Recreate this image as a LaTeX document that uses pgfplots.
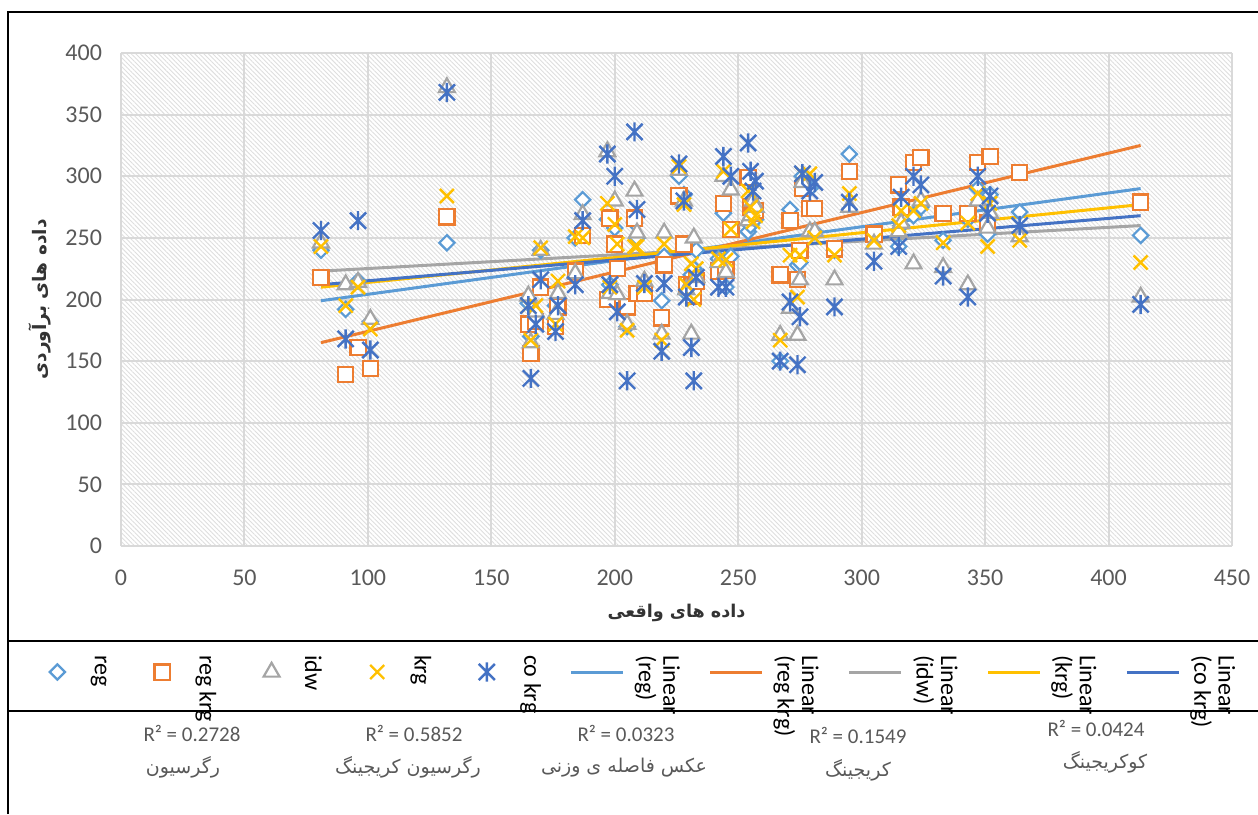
\documentclass[border=0pt]{standalone}
\usepackage{fontspec}
\setmainfont{Carlito}
\newfontfamily\fa[Script=Arabic]{DejaVu Sans}
\TeXXeTstate=1
\usepackage{graphicx}
\usepackage{pgfplots}
\pgfplotsset{compat=1.18}
\usepackage{pgfplotstable}
\usetikzlibrary{patterns.meta}
\definecolor{cReg}{HTML}{5B9BD5}
\definecolor{cRegKrg}{HTML}{ED7D31}
\definecolor{cIdw}{HTML}{A5A5A5}
\definecolor{cKrg}{HTML}{FFC000}
\definecolor{cCo}{HTML}{4472C4}
\definecolor{tickgray}{HTML}{595959}
\definecolor{gridgray}{HTML}{D9D9D9}

\pgfdeclareplotmark{xc}{%
  \pgfpathmoveto{\pgfqpoint{-\pgfplotmarksize}{-\pgfplotmarksize}}%
  \pgfpathlineto{\pgfqpoint{\pgfplotmarksize}{\pgfplotmarksize}}%
  \pgfpathmoveto{\pgfqpoint{-\pgfplotmarksize}{\pgfplotmarksize}}%
  \pgfpathlineto{\pgfqpoint{\pgfplotmarksize}{-\pgfplotmarksize}}%
  \pgfusepathqstroke}
\pgfdeclareplotmark{xstar}{%
  \pgfpathmoveto{\pgfqpoint{-0.84\pgfplotmarksize}{-0.84\pgfplotmarksize}}%
  \pgfpathlineto{\pgfqpoint{0.84\pgfplotmarksize}{0.84\pgfplotmarksize}}%
  \pgfpathmoveto{\pgfqpoint{-0.84\pgfplotmarksize}{0.84\pgfplotmarksize}}%
  \pgfpathlineto{\pgfqpoint{0.84\pgfplotmarksize}{-0.84\pgfplotmarksize}}%
  \pgfpathmoveto{\pgfqpoint{0pt}{-\pgfplotmarksize}}%
  \pgfpathlineto{\pgfqpoint{0pt}{\pgfplotmarksize}}%
  \pgfusepathqstroke}

\newcommand\leg[1]{\raisebox{8.5pt}{\rotatebox{-90}{#1}}}
\newcommand\legtwo[2]{\raisebox{8.5pt}{\rotatebox{-90}{\renewcommand\arraystretch{0.82}\begin{tabular}{@{}l@{}}#1\\#2\end{tabular}}}}

\pgfplotstableread{
x   reg regkrg idw krg cokrg
81  240 218 246 243 256
91  192 139 212 195 168
96  215 161 214 210 264
101 182 144 184 176 159
132 246 267 372 284 368
165 197 180 203 195 195
166 170 156 165 167 136
168 185 182 190 195 180
170 240 210 240 242 216
176 195 178 188 180 174
177 200 194 205 215 195
184 250 223 221 251 212
187 281 252 269 250 264
197 265 200 320 278 318
198 212 266 205 210 212
200 258 245 280 261 300
201 200 225 204 245 190
205 178 194 180 175 134
208 262 266 288 243 336
209 250 205 254 243 273
212 210 205 215 210 213
219 199 185 172 167 158
220 235 228 254 245 213
226 300 284 305 308 310
228 285 245 280 277 280
229 205 212 208 212 202
231 220 210 172 229 161
232 225 203 250 200 134
233 240 215 218 225 218
242 233 223 230 233 210
244 270 278 300 304 316
245 210 224 222 232 210
247 235 257 289 257 300
254 255 299 264 288 327
255 260 275 268 275 304
256 270 270 280 263 288
257 265 272 275 268 296
267 150 220 171 167 150
271 273 264 193 236 198
274 228 216 171 202 147
275 230 240 216 236 186
276 300 290 295 302 302
279 290 274 255 302 288
281 255 274 255 250 295
289 240 241 216 236 194
295 318 304 275 286 279
305 250 253 245 248 231
315 243 293 255 260 243
316 260 275 262 272 283
321 268 311 229 272 300
324 275 315 280 278 293
333 248 270 226 246 219
343 265 270 212 262 202
347 290 311 280 286 300
351 253 262 258 243 270
352 285 316 270 278 284
364 271 303 251 248 260
413 252 279 202 230 196
}\data

\begin{document}
\begin{tikzpicture}
\path[use as bounding box] (0,0) rectangle (629pt,407pt);
\begin{axis}[
  at={(60.5pt,134pt)}, anchor=south west,
  scale only axis, width=555.5pt, height=246.5pt,
  xmin=0, xmax=450, ymin=0, ymax=400,
  xtick={0,50,...,450}, ytick={0,50,...,400},
  grid=major, major grid style={draw=gridgray, line width=1pt},
  axis line style={draw=none},
  major tick length=0pt,
  tick label style={font=\fontsize{12}{14}\selectfont, text=tickgray},
  xticklabel shift=8.5pt, yticklabel shift=6pt,
  /pgf/number format/assume math mode=true,
  axis background/.style={pattern={Lines[angle=-45,distance=1.6pt,line width=0.45pt]}, pattern color=black!13},
  xlabel={\fa\bfseries\beginR داده های واقعی\endR},
  ylabel={\fa\bfseries\beginR داده های برآوردی\endR},
  xlabel style={at={(axis description cs:0.5,-0.1359)}, anchor=center, font=\fontsize{8.8}{11}\selectfont, text=black!80},
  ylabel style={at={(axis description cs:-0.0729,0.5)}, anchor=center, font=\fontsize{9.3}{11}\selectfont, text=black!80},
  legend columns=-1,
  legend style={at={(axis description cs:-0.081,-0.2211)}, anchor=north west,
    draw=none, fill=none, inner sep=0pt, outer sep=0pt,
    font=\fontsize{12}{14}\selectfont, text=black,
    nodes={inner sep=0pt},
    cells={anchor=base west},
    /tikz/every odd column/.append style={column sep=3.5pt},
    /tikz/every even column/.append style={column sep=14.5pt}},
  legend image code/.code={\path (0pt,0pt) (26pt,0pt);\draw[mark repeat=2,mark phase=2,#1] plot coordinates {(0pt,0pt) (13pt,0pt) (26pt,0pt)};},
]
\addplot[only marks, mark=square*, mark size=2.7pt, draw=cReg, mark options={rotate=45, fill=white, draw=cReg, line width=1.1pt}] table[x=x,y=reg] {\data};
\addlegendentry{\leg{reg}}
\addplot[only marks, mark=square*, mark size=3.8pt, draw=cRegKrg, mark options={fill=white, draw=cRegKrg, line width=1.1pt}] table[x=x,y=regkrg] {\data};
\addlegendentry{\leg{reg krg}}
\addplot[only marks, mark=triangle*, mark size=4.6pt, draw=cIdw, mark options={fill=white, draw=cIdw, line width=1.1pt}] table[x=x,y=idw] {\data};
\addlegendentry{\leg{idw}}
\addplot[only marks, mark=xc, mark size=3.5pt, draw=cKrg, mark options={draw=cKrg, line width=1.2pt}] table[x=x,y=krg] {\data};
\addlegendentry{\leg{krg}}
\addplot[only marks, mark=xstar, mark size=4.8pt, draw=cCo, mark options={draw=cCo, line width=1.2pt}] table[x=x,y=cokrg] {\data};
\addlegendentry{\leg{co krg}}
\addplot[cReg, line width=1.5pt, no marks] coordinates {(81,199) (413,290)};
\addlegendentry{\legtwo{Linear}{(reg)}}
\addplot[cRegKrg, line width=1.5pt, no marks] coordinates {(81,165) (413,325)};
\addlegendentry{\legtwo{Linear}{(reg krg)}}
\addplot[cIdw, line width=1.5pt, no marks] coordinates {(81,223) (413,260)};
\addlegendentry{\legtwo{Linear}{(idw)}}
\addplot[cKrg, line width=1.5pt, no marks] coordinates {(81,210) (413,277)};
\addlegendentry{\legtwo{Linear}{(krg)}}
\addplot[cCo, line width=1.5pt, no marks] coordinates {(81,212) (413,268)};
\addlegendentry{\legtwo{Linear}{(co krg)}}
\end{axis}
\draw[line width=1pt] (4pt,0pt) -- (4pt,401pt) -- (629pt,401pt);
\draw[line width=1pt] (4pt,86.5pt) -- (629pt,86.5pt);
\draw[line width=0.8pt] (4pt,51.5pt) -- (629pt,51.5pt);
\begin{scope}[every node/.style={text=tickgray, font=\fontsize{10.5}{13}\selectfont}]
\node at (96pt,40.5pt) {R² = 0.2728};
\node at (207pt,40.5pt) {R² = 0.5852};
\node at (313pt,40.5pt) {R² = 0.0323};
\node at (429pt,39.5pt) {R² = 0.1549};
\node at (548pt,43pt) {R² = 0.0424};
\end{scope}
\begin{scope}[every node/.style={text=tickgray, font=\fa\fontsize{9.5}{11}\selectfont}]
\node at (91.5pt,23.5pt) {\beginR رگرسیون\endR};
\node at (204pt,23.5pt) {\beginR رگرسیون کریجینگ\endR};
\node at (312pt,23pt) {\beginR عکس فاصله ی وزنی\endR};
\node at (429pt,22pt) {\beginR کریجینگ\endR};
\node at (552.5pt,26pt) {\beginR کوکریجینگ\endR};
\end{scope}
\end{tikzpicture}
\end{document}
